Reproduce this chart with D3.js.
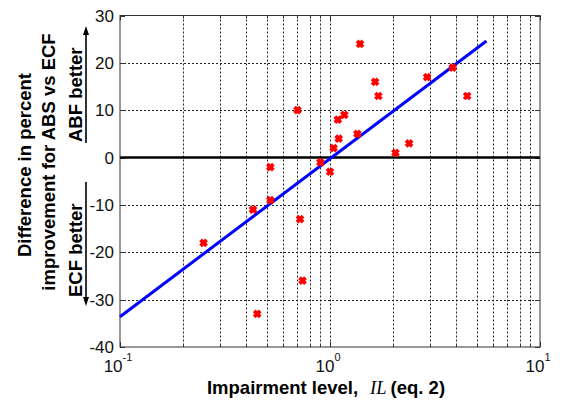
<!DOCTYPE html>
<html>
<head>
<meta charset="utf-8">
<script src="https://cdn.jsdelivr.net/npm/d3@7"></script>
<style>
  html, body { margin: 0; padding: 0; background: #fff; }
  svg { display: block; }
</style>
</head>
<body>
<svg id="chart" width="563" height="405"></svg>
<script>
// ---- data ----
const impairment = [0.25, 0.43, 0.45, 0.52, 0.52, 0.70, 0.72, 0.74, 0.90, 1.00, 1.04, 1.09, 1.10, 1.17, 1.35, 1.39, 1.64, 1.70, 2.05, 2.38, 2.90, 3.84, 4.50];
const difference = [-18, -11, -33, -2, -9, 10, -13, -26, -1, -3, 2, 8, 4, 9, 5, 24, 16, 13, 1, 3, 17, 19, 13];
const fitX = [0.1, 5.56];
const fitY = [-33.6, 24.6];
const yTicks = [-40, -30, -20, -10, 0, 10, 20, 30];
const xMajor = [0.1, 1, 10];
const xMajorExp = ["-1", "0", "1"];
const xMinor = [0.2, 0.3, 0.4, 0.5, 0.6, 0.7, 0.8, 0.9, 2, 3, 4, 5, 6, 7, 8, 9];

const L = 120, R = 540, T = 15.5, B = 347;
const svg = d3.select("#chart");

const x = d3.scaleLog().domain([0.1, 10]).range([L, R]);
const y = d3.scaleLinear().domain([-40, 30]).range([B, T]);

// grid
const grid = svg.append("g").attr("stroke", "#222").attr("stroke-width", 1)
  .attr("stroke-dasharray", "2,2").attr("fill", "none");
xMinor.concat([1]).forEach(v => {
  grid.append("line").attr("x1", Math.round(x(v)) + 0.5).attr("x2", Math.round(x(v)) + 0.5)
    .attr("y1", T).attr("y2", B);
});
yTicks.filter(v => v > -40 && v < 30 && v !== 0).forEach(v => {
  grid.append("line").attr("x1", L).attr("x2", R)
    .attr("y1", Math.round(y(v)) + 0.5).attr("y2", Math.round(y(v)) + 0.5);
});

// ticks (inward)
const tk = svg.append("g").attr("stroke", "#333").attr("stroke-width", 1);
yTicks.forEach(v => {
  const yy = Math.round(y(v)) + 0.5;
  tk.append("line").attr("x1", L).attr("x2", L + 5).attr("y1", yy).attr("y2", yy);
  tk.append("line").attr("x1", R).attr("x2", R - 5).attr("y1", yy).attr("y2", yy);
});
xMajor.concat(xMinor).forEach(v => {
  const xx = Math.round(x(v)) + 0.5;
  const len = xMajor.includes(v) ? 5 : 3;
  tk.append("line").attr("x1", xx).attr("x2", xx).attr("y1", B).attr("y2", B - len);
  tk.append("line").attr("x1", xx).attr("x2", xx).attr("y1", T).attr("y2", T + len);
});

// zero line
svg.append("line").attr("x1", L).attr("x2", R).attr("y1", y(0)).attr("y2", y(0))
  .attr("stroke", "#000").attr("stroke-width", 2.6);

// box
svg.append("rect").attr("x", L).attr("y", T).attr("width", R - L).attr("height", B - T)
  .attr("fill", "none").attr("stroke", "#333").attr("stroke-width", 1);

// fit line
svg.append("path")
  .datum(fitX.map((v, i) => [v, fitY[i]]))
  .attr("d", d3.line().x(d => x(d[0])).y(d => y(d[1])))
  .attr("stroke", "#0000ff").attr("stroke-width", 3).attr("fill", "none");

// markers
svg.append("g").selectAll("path").data(impairment.map((v, i) => [v, difference[i]]))
  .join("path")
  .attr("transform", d => `translate(${x(d[0])},${y(d[1])})`)
  .attr("d", "M-3,-3L3,3M-3,3L3,-3")
  .attr("stroke", "#ff0000").attr("stroke-width", 3.8).attr("fill", "none");

// y tick labels
svg.append("g").selectAll("text").data(yTicks).join("text")
  .attr("x", 114).attr("y", d => y(d)).attr("dy", "0.36em")
  .attr("text-anchor", "end")
  .attr("font-family", "Liberation Sans, Arial, sans-serif").attr("font-size", 17)
  .attr("fill", "#111")
  .text(d => d);

// x tick labels
xMajor.forEach((v, i) => {
  const t = svg.append("text").attr("x", x(v) - 2).attr("y", 371.5)
    .attr("text-anchor", "middle")
    .attr("font-family", "Liberation Sans, Arial, sans-serif").attr("font-size", 17)
    .attr("fill", "#111");
  t.append("tspan").text("10");
  t.append("tspan").attr("dy", -11).attr("font-size", 11).text(xMajorExp[i]);
});

// x label
const xl = svg.append("text").attr("x", 326).attr("y", 394).attr("text-anchor", "middle")
  .attr("font-family", "Liberation Sans, Arial, sans-serif").attr("font-size", 18.5)
  .attr("font-weight", "bold").attr("fill", "#000");
xl.append("tspan").text("Impairment level,");
xl.append("tspan").attr("dx", 12).attr("font-family", "Liberation Serif, Times New Roman, serif")
  .attr("font-style", "italic").attr("font-weight", "normal").text("IL");
xl.append("tspan").attr("dx", 4).text("(eq. 2)");

// y label
const yfont = "Liberation Sans, Arial, sans-serif";
function vtext(xb, yc, anchor, str) {
  return svg.append("text").attr("transform", `translate(${xb},${yc}) rotate(-90)`)
    .attr("text-anchor", anchor).attr("font-family", yfont).attr("font-size", 18.5)
    .attr("font-weight", "bold").attr("fill", "#000").text(str);
}
vtext(31, 165, "middle", "Difference in percent");
vtext(55, 162, "middle", "improvement for ABS vs ECF");
vtext(82, 142, "start", "ABF better");
vtext(82, 297, "start", "ECF better");

// arrows
const ar = svg.append("g").attr("stroke", "#000").attr("stroke-width", 1.6);
ar.append("line").attr("x1", 86).attr("x2", 86).attr("y1", 143).attr("y2", 33);
ar.append("line").attr("x1", 86).attr("x2", 86).attr("y1", 182).attr("y2", 299);
svg.append("path").attr("d", "M86,26L83,35L89,35Z").attr("fill", "#000");
svg.append("path").attr("d", "M86,306L83,297L89,297Z").attr("fill", "#000");
</script>
</body>
</html>
